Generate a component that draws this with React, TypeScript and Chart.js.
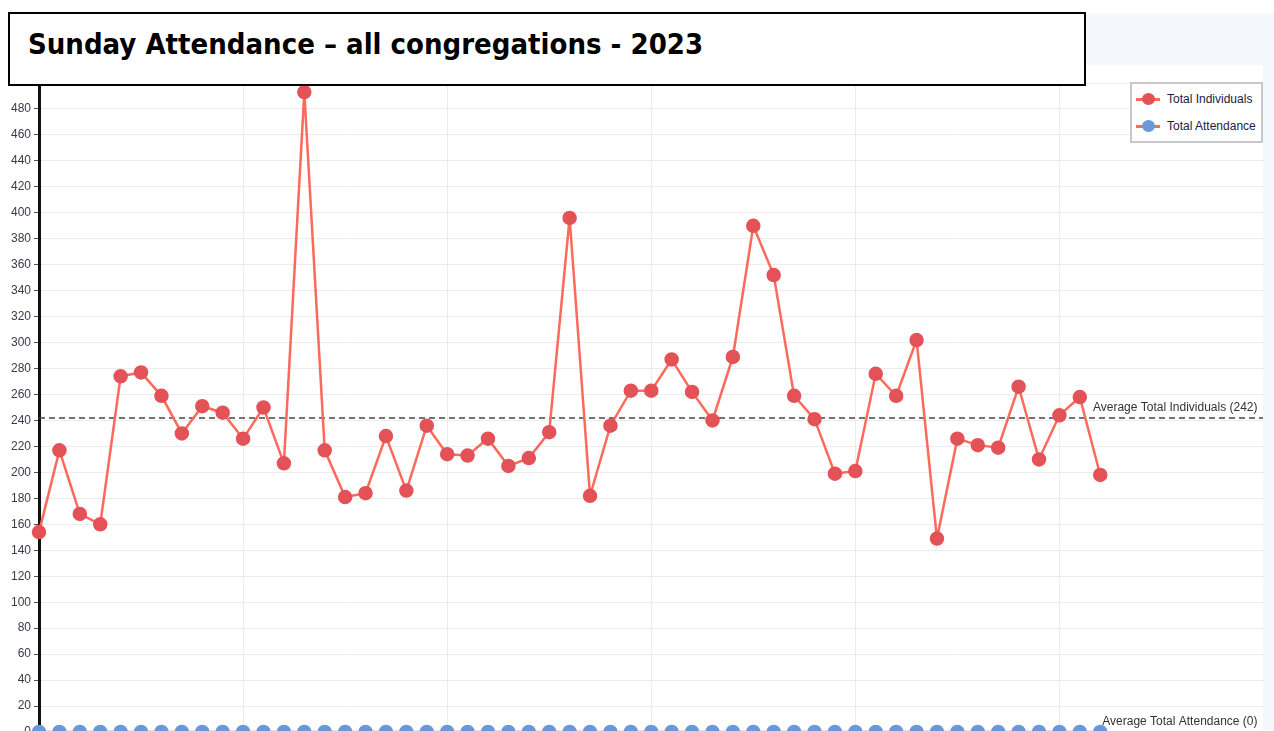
import React, { useEffect, useRef } from 'react';
import { Chart, registerables } from 'chart.js';

Chart.register(...registerables);

const categories = [
  'Jan 1', 'Jan 8', 'Jan 15', 'Jan 22', 'Jan 29',
  'Feb 5', 'Feb 12', 'Feb 19', 'Feb 26',
  'Mar 5', 'Mar 12', 'Mar 19', 'Mar 26',
  'Apr 2', 'Apr 9', 'Apr 16', 'Apr 23', 'Apr 30',
  'May 7', 'May 14', 'May 21', 'May 28',
  'Jun 4', 'Jun 11', 'Jun 18', 'Jun 25',
  'Jul 2', 'Jul 9', 'Jul 16', 'Jul 23', 'Jul 30',
  'Aug 6', 'Aug 13', 'Aug 20', 'Aug 27',
  'Sep 3', 'Sep 10', 'Sep 17', 'Sep 24',
  'Oct 1', 'Oct 8', 'Oct 15', 'Oct 22', 'Oct 29',
  'Nov 5', 'Nov 12', 'Nov 19', 'Nov 26',
  'Dec 3', 'Dec 10', 'Dec 17', 'Dec 24', 'Dec 31',
];

const totalIndividuals = [
  154, 217, 168, 160, 274, 277, 259, 230, 251, 246,
  226, 250, 207, 493, 217, 181, 184, 228, 186, 236,
  214, 213, 226, 205, 211, 231, 396, 182, 236, 263,
  263, 287, 262, 240, 289, 390, 352, 259, 241, 199,
  201, 276, 259, 302, 149, 226, 221, 219, 266, 210,
  244, 258, 198,
];

const totalAttendance = [
  0, 0, 0, 0, 0, 0, 0, 0, 0, 0,
  0, 0, 0, 0, 0, 0, 0, 0, 0, 0,
  0, 0, 0, 0, 0, 0, 0, 0, 0, 0,
  0, 0, 0, 0, 0, 0, 0, 0, 0, 0,
  0, 0, 0, 0, 0, 0, 0, 0, 0, 0,
  0, 0, 0,
];

const seriesNames = ['Total Individuals', 'Total Attendance'];
const yMin = 0;
const yMax = 500;
const yStep = 20;
const xMin = 0;
const xMax = 60;
const xStep = 10;

const TITLE = 'Sunday Attendance \u2013 all congregations - 2023';

const LINE_RED = '#fb6a5a';
const POINT_RED = '#e25257';
const POINT_BLUE = '#6b98d8';
const FONT = '"Liberation Sans", Arial, sans-serif';

const average = (arr: number[]) =>
  Math.round(arr.reduce((s, v) => s + v, 0) / arr.length);

const avgLinesPlugin = {
  id: 'avgLines',
  beforeDatasetsDraw(chart: any) {
    const { ctx, chartArea, scales } = chart;
    const y = scales.y;
    const lines = [
      { value: average(totalIndividuals), label: `Average ${seriesNames[0]}` },
      { value: average(totalAttendance), label: `Average ${seriesNames[1]}` },
    ];
    ctx.save();
    lines.forEach((l) => {
      const py = y.getPixelForValue(l.value);
      ctx.beginPath();
      ctx.setLineDash([6, 4]);
      ctx.lineWidth = 1.5;
      ctx.strokeStyle = '#444';
      ctx.moveTo(chartArea.left, py);
      ctx.lineTo(chartArea.right, py);
      ctx.stroke();
      ctx.setLineDash([]);
      ctx.fillStyle = '#333';
      ctx.font = `12px ${FONT}`;
      ctx.textAlign = 'right';
      ctx.textBaseline = 'alphabetic';
      ctx.fillText(`${l.label} (${l.value})`, chartArea.right - 6, py - 7);
    });
    ctx.restore();
  },
};

const App: React.FC = () => {
  const ref = useRef<HTMLCanvasElement | null>(null);

  useEffect(() => {
    if (!ref.current) return;
    const toPoints = (arr: number[]) => arr.map((v, i) => ({ x: i, y: v, label: categories[i] }));
    const chart = new Chart(ref.current, {
      type: 'line',
      data: {
        datasets: [
          {
            label: seriesNames[1],
            data: toPoints(totalAttendance),
            borderColor: LINE_RED,
            backgroundColor: POINT_BLUE,
            pointBackgroundColor: POINT_BLUE,
            pointBorderColor: POINT_BLUE,
            pointRadius: 6,
            borderWidth: 2.5,
            clip: false as any,
            tension: 0,
          },
          {
            label: seriesNames[0],
            data: toPoints(totalIndividuals),
            borderColor: LINE_RED,
            backgroundColor: POINT_RED,
            pointBackgroundColor: POINT_RED,
            pointBorderColor: POINT_RED,
            pointRadius: 6,
            borderWidth: 2.5,
            clip: false as any,
            tension: 0,
          },
        ],
      },
      options: {
        responsive: false,
        animation: false,
        layout: { padding: { top: 18, right: 0, bottom: 0, left: 0 } },
        plugins: {
          legend: { display: false },
          title: { display: false },
          tooltip: { enabled: true },
        },
        scales: {
          x: {
            type: 'linear',
            min: xMin,
            max: xMax,
            ticks: { stepSize: xStep, display: false },
            grid: { color: '#ececec', drawTicks: false },
            border: { display: false },
            afterFit: (s: any) => { s.height = 33; },
          },
          y: {
            min: yMin,
            max: yMax,
            ticks: {
              stepSize: yStep,
              color: '#3a3a4a',
              font: { family: FONT, size: 12 },
              padding: 3,
            },
            grid: { color: '#ececec', tickColor: '#555', tickLength: 5 },
            border: { color: '#111', width: 3 },
            afterFit: (s: any) => { s.width = 39; },
          },
        },
      } as any,
      plugins: [avgLinesPlugin],
    });
    return () => chart.destroy();
  }, []);

  const legendItem = (name: string, dot: string, top: number) => (
    <div style={{ position: 'absolute', left: 4, top, height: 14, width: 127 }}>
      <div style={{ position: 'absolute', left: 0, top: 6, width: 24, height: 3, background: LINE_RED }} />
      <div style={{ position: 'absolute', left: 6, top: 1, width: 13, height: 12, borderRadius: '50%', background: dot }} />
      <div style={{ position: 'absolute', left: 31, top: 0, fontFamily: FONT, fontSize: 12, lineHeight: '14px', color: '#1c1c3c', whiteSpace: 'nowrap' }}>{name}</div>
    </div>
  );

  return (
    <div style={{ position: 'absolute', left: 0, top: 0, width: 1274, height: 731, overflow: 'hidden', background: '#fff' }}>
      <div style={{ position: 'absolute', left: 60, top: 14, right: 0, bottom: 0, background: '#f4f8fc' }} />
      <div style={{ position: 'absolute', left: 0, top: 65, width: 1263, height: 700, background: '#fff', overflow: 'hidden' }}>
        <canvas ref={ref} width={1272} height={700} style={{ display: 'block', width: 1272, height: 700 }} />
      </div>
      <div style={{ position: 'absolute', left: 1130, top: 82, width: 133, height: 61, boxSizing: 'border-box', border: '2px solid #c8c8c8', background: '#fff' }}>
        {legendItem(seriesNames[0], POINT_RED, 8)}
        {legendItem(seriesNames[1], POINT_BLUE, 35)}
      </div>
      <div style={{ position: 'absolute', left: 8, top: 12, width: 1078, height: 74, boxSizing: 'border-box', border: '2px solid #000', background: '#fff', paddingLeft: 18, paddingTop: 15 }}>
        <span style={{ fontFamily: '"DejaVu Sans Condensed", "DejaVu Sans", sans-serif', fontStretch: 'condensed', fontWeight: 'bold', fontSize: 29, lineHeight: '30px', color: '#000', whiteSpace: 'nowrap' }}>{TITLE}</span>
      </div>
    </div>
  );
};

export default App;
